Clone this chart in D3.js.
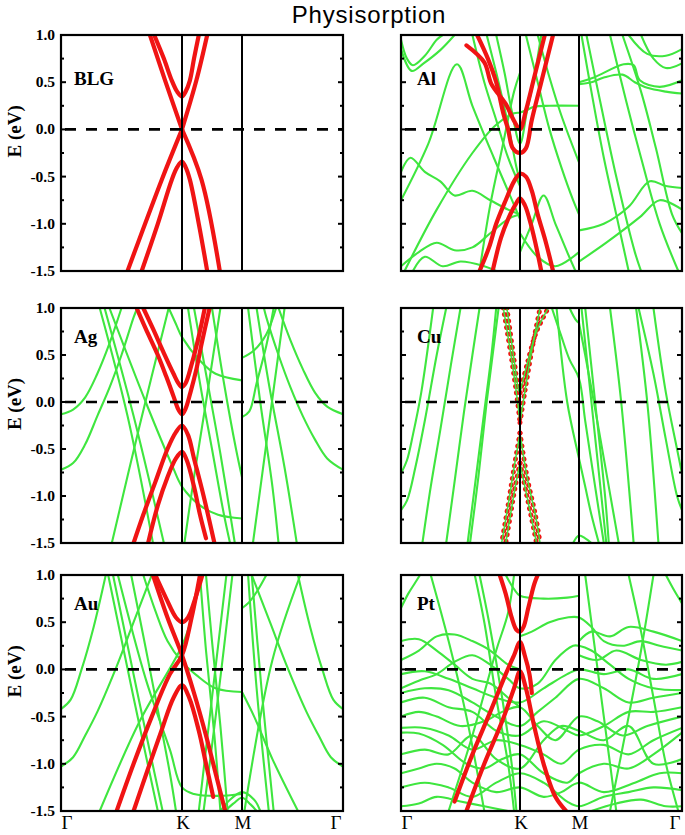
<!DOCTYPE html>
<html><head><meta charset="utf-8">
<script src="https://cdn.jsdelivr.net/npm/d3@7"></script>
<style>body{margin:0;background:#fff}svg{display:block}</style></head>
<body><svg id="c" width="685" height="835"></svg>
<script>
// ---------- data ----------
const kLabels = ["Γ", "K", "M", "Γ"];
const kNodes = [0, 1, 1.5, 2.33];
const eTicks = [1.0, 0.5, 0.0, -0.5, -1.0, -1.5];
const eMinor = [0.75, 0.25, -0.25, -0.75, -1.25];
const panelNames = ["BLG", "Al", "Ag", "Cu", "Au", "Pt"];

// graphene-projected bands (red), each band = list of [k, E]
const blgRed = [
  [[0.77,1.0],[0.85,0.75],[0.915,0.52],[0.96,0.4],[1.0,0.35],[1.03,0.4],[1.066,0.52],[1.1,0.75],[1.14,1.0]],
  [[0.735,1.0],[0.86,0.52],[1.0,0.0]], [[1.0,0.0],[1.12,0.52],[1.21,1.0]],
  [[0.55,-1.5],[0.832,-0.535],[1.0,0.0]], [[1.0,0.0],[1.163,-0.535],[1.315,-1.5]],
  [[0.667,-1.5],[0.8,-1.0],[0.915,-0.535],[0.96,-0.4],[1.0,-0.34],[1.03,-0.4],[1.066,-0.535],[1.14,-1.0],[1.21,-1.5]]
];
const blgGreen = [];

const alRed = [
  [[0.55,0.89],[0.7,0.71],[0.76,0.48],[0.88,0.27],[0.95,0.09],[1.0,0.0],[1.05,0.2],[1.12,0.55],[1.21,1.0]],
  [[0.64,1.0],[0.73,0.75],[0.8,0.5],[0.86,0.17],[0.9,0.0],[0.94,-0.2],[1.0,-0.25],[1.05,-0.2],[1.1,0.1],[1.18,0.5],[1.28,1.0]],
  [[0.66,-1.5],[0.74,-1.25],[0.8,-1.0],[0.88,-0.75],[0.95,-0.55],[1.0,-0.47],[1.05,-0.5],[1.1,-0.65],[1.15,-0.9],[1.22,-1.2],[1.28,-1.5]],
  [[0.77,-1.5],[0.84,-1.15],[0.9,-0.95],[0.96,-0.8],[1.0,-0.73],[1.04,-0.8],[1.08,-0.95],[1.13,-1.2],[1.18,-1.5]]
];
const alGreen = [
  [[0,0.85],[0.09,0.62],[0.19,0.7],[0.33,0.84],[0.45,1.0]],
  [[0,0.95],[0.05,0.75],[0.1,0.68],[0.2,0.78],[0.3,0.95],[0.35,1.0]],
  [[0,-0.75],[0.23,-0.15],[0.47,0.69],[0.6,0.25],[0.78,-0.3],[0.95,-0.8],[1.0,-0.95]],
  [[0.03,-1.5],[0.3,-0.85],[0.6,-0.25],[0.8,0.05],[0.95,0.17],[1.0,0.18],[1.05,0.2],[1.12,0.24],[1.25,0.25],[1.5,0.25]],
  [[0,-0.45],[0.08,-0.3],[0.2,-0.45],[0.33,-0.55],[0.45,-0.7],[0.6,-0.65],[0.75,-0.75],[0.9,-0.85],[1.0,-0.9]],
  [[0,-1.45],[0.15,-1.3],[0.3,-1.2],[0.45,-1.28],[0.6,-1.25],[0.75,-1.1],[0.9,-0.95],[1.0,-0.9]],
  [[0.1,-1.5],[0.2,-1.35],[0.35,-1.45],[0.5,-1.4],[0.7,-1.45],[0.8,-1.5]],
  [[0.6,1.0],[0.7,0.5],[0.8,0.1],[0.9,-0.3],[1.0,-0.6]],
  [[0.66,-1.5],[0.75,-0.8],[0.85,-0.2],[0.95,0.4],[1.0,0.6]],
  [[0.72,1.0],[0.82,0.5],[0.9,0.05],[0.97,-0.4],[1.0,-0.55]],
  [[0.8,1.0],[0.87,0.6],[0.93,0.2],[1.0,-0.15],[1.06,0.2],[1.12,0.55],[1.18,1.0]],
  [[1.05,1.0],[1.15,0.5],[1.25,0.0],[1.35,-0.4],[1.45,-0.75],[1.5,-0.9]],
  [[1.15,1.0],[1.25,0.55],[1.35,0.15],[1.5,-0.35]],
  [[1.0,-1.3],[1.1,-1.0],[1.2,-0.7],[1.3,-1.0],[1.4,-1.3],[1.47,-1.5]],
  [[1.0,-1.1],[1.15,-1.35],[1.3,-1.45],[1.5,-1.3]],
  [[1.5,0.5],[1.62,0.55],[1.86,0.69],[1.94,0.68],[1.99,0.52],[2.15,0.45],[2.33,0.52]],
  [[1.5,0.48],[1.6,0.5],[1.7,0.55],[1.85,0.58],[1.95,0.5],[2.05,0.44],[2.2,0.4],[2.33,0.38]],
  [[2.0,1.0],[2.1,0.75],[2.2,0.65],[2.33,0.7]],
  [[1.9,1.0],[2.05,0.8],[2.2,0.78],[2.33,0.85]],
  [[1.5,-1.07],[1.7,-1.0],[1.9,-0.82],[2.07,-0.55],[2.2,-0.6],[2.33,-0.62]],
  [[1.5,-1.4],[1.72,-1.2],[1.99,-0.93],[2.15,-0.75],[2.33,-0.85]],
  [[1.52,1.0],[1.6,0.4],[1.7,-0.3],[1.8,-0.9],[1.9,-1.5]],
  [[1.56,1.0],[1.67,0.3],[1.8,-0.5],[1.95,-1.3],[2.0,-1.5]],
  [[1.75,1.0],[1.88,0.3],[2.0,-0.3],[2.15,-1.0],[2.3,-1.5]],
  [[1.85,1.0],[2.0,0.4],[2.12,-0.2],[2.25,-0.9],[2.33,-1.1]]
];

const agRed = [
  [[0.68,1.0],[0.76,0.78],[0.85,0.52],[0.93,0.3],[0.97,0.2],[1.0,0.16],[1.03,0.2],[1.08,0.4],[1.14,0.7],[1.19,1.0]],
  [[0.625,1.0],[0.7,0.78],[0.8,0.5],[0.87,0.27],[0.93,0.06],[0.97,-0.08],[1.0,-0.13],[1.03,-0.07],[1.07,0.1],[1.12,0.35],[1.16,0.6],[1.23,1.0]],
  [[0.6,-1.5],[0.68,-1.2],[0.78,-0.85],[0.88,-0.5],[0.95,-0.32],[1.0,-0.25],[1.05,-0.35],[1.1,-0.6],[1.18,-1.0],[1.27,-1.5]],
  [[0.72,-1.5],[0.8,-1.1],[0.88,-0.8],[0.95,-0.6],[1.0,-0.53],[1.04,-0.62],[1.1,-0.9],[1.15,-1.2],[1.2,-1.45]]
];
const agGreen = [
  [[0,-0.13],[0.1,-0.08],[0.2,0.05],[0.3,0.3],[0.4,0.62],[0.5,1.0]],
  [[0,-0.72],[0.1,-0.65],[0.2,-0.45],[0.3,-0.15],[0.4,0.15],[0.5,0.5],[0.6,0.9],[0.63,1.0]],
  [[0.32,1.0],[0.55,-0.15],[0.76,-1.5]],
  [[0.36,1.0],[0.6,-0.15],[0.85,-1.5]],
  [[0.42,-1.5],[0.65,-0.25],[0.89,1.0]],
  [[0.89,1.0],[0.95,0.83],[1.0,0.69],[1.15,0.44],[1.28,0.3],[1.5,0.23]],
  [[0.4,1.0],[0.7,0.0],[0.92,-0.68],[1.0,-0.9],[1.15,-1.1],[1.3,-1.2],[1.5,-1.24]],
  [[1.05,1.0],[1.15,0.2],[1.25,-0.5],[1.35,-1.2],[1.4,-1.5]],
  [[1.1,1.0],[1.2,0.3],[1.32,-0.55],[1.44,-1.5]],
  [[1.02,-1.5],[1.1,-0.8],[1.2,0.0],[1.32,1.0]],
  [[1.25,1.0],[1.35,0.2],[1.45,-0.5],[1.5,-0.8]],
  [[1.5,0.47],[1.6,0.55],[1.7,0.72],[1.78,1.0]],
  [[1.5,-0.16],[1.56,-0.1],[1.62,0.2],[1.7,0.6],[1.76,1.0]],
  [[1.55,1.0],[1.65,0.0],[1.75,-0.9],[1.8,-1.5]],
  [[1.62,1.0],[1.72,0.2],[1.85,-0.7],[1.95,-1.5]],
  [[1.59,-1.5],[1.72,-0.25],[1.85,1.0]],
  [[2.33,-0.13],[2.2,-0.05],[2.1,0.1],[2.0,0.35],[1.9,0.65],[1.8,1.0]],
  [[2.33,-0.72],[2.2,-0.6],[2.1,-0.4],[2.0,-0.15],[1.9,0.15],[1.8,0.5],[1.7,0.9],[1.68,1.0]]
];

const cuRed = [
  [[0.86,1.0],[0.93,0.45],[0.98,0.0],[1.0,-0.22]],
  [[0.89,1.0],[0.95,0.45],[0.99,0.12],[1.0,0.1]],
  [[1.0,-0.22],[1.04,0.1],[1.1,0.55],[1.17,1.0]],
  [[1.0,0.1],[1.06,0.4],[1.14,0.75],[1.24,1.0]],
  [[1.0,-0.33],[0.95,-0.7],[0.9,-1.1],[0.846,-1.5]],
  [[1.0,-0.65],[0.96,-0.9],[0.92,-1.2],[0.88,-1.5]],
  [[1.0,-0.33],[1.06,-0.8],[1.13,-1.2],[1.17,-1.5]],
  [[1.0,-0.65],[1.05,-0.95],[1.1,-1.25],[1.14,-1.5]]
];
const cuGreen = [
  [[0,-0.76],[0.05,-0.62],[0.1,-0.35],[0.17,0.1],[0.27,1.0]],
  [[0,-1.15],[0.05,-1.05],[0.12,-0.7],[0.2,-0.2],[0.3,0.5],[0.38,1.0]],
  [[0.18,-1.5],[0.25,-0.9],[0.33,-0.3],[0.42,0.4],[0.5,1.0]],
  [[0.38,-1.5],[0.45,-0.85],[0.53,-0.1],[0.6,0.5],[0.66,1.0]],
  [[0.56,-1.5],[0.62,-0.9],[0.7,-0.1],[0.76,0.5],[0.8,1.0]],
  [[0.58,-1.5],[0.65,-0.8],[0.72,0.0],[0.78,0.6],[0.82,1.0]],
  [[1.27,1.0],[1.35,0.7],[1.42,0.45],[1.5,0.25],[1.55,-0.2],[1.63,-0.9],[1.7,-1.5]],
  [[1.31,1.0],[1.4,0.0],[1.5,-0.6],[1.55,-0.9],[1.6,-1.2],[1.66,-1.5]],
  [[1.42,1.0],[1.47,0.88],[1.5,0.84]],
  [[1.5,0.84],[1.55,0.5],[1.62,0.0],[1.7,-0.6],[1.78,-1.2],[1.82,-1.5]],
  [[1.45,-1.5],[1.5,-1.42],[1.55,-1.45],[1.6,-1.5]],
  [[1.75,1.0],[1.84,0.0],[1.94,-1.5]],
  [[1.96,1.0],[2.05,0.0],[2.14,-1.5]],
  [[2.1,1.0],[2.2,0.1],[2.29,-0.5],[2.33,-0.76]],
  [[1.98,1.0],[2.1,0.3],[2.2,-0.4],[2.29,-1.0],[2.33,-1.15]],
  [[1.52,1.0],[1.6,0.0],[1.68,-1.0],[1.72,-1.5]],
  [[1.55,1.0],[1.63,0.0],[1.71,-1.0],[1.74,-1.5]]
];

const auRed = [
  [[0.78,1.0],[0.87,0.75],[0.95,0.55],[1.0,0.5],[1.05,0.55],[1.11,0.75],[1.17,1.0]],
  [[0.76,1.0],[0.88,0.55],[1.0,0.15],[1.1,-0.25],[1.2,-0.7],[1.3,-1.2],[1.36,-1.5]],
  [[0.46,-1.5],[0.6,-1.0],[0.75,-0.5],[0.9,-0.05],[1.0,0.15],[1.08,0.55],[1.15,1.0]],
  [[0.6,-1.5],[0.72,-1.05],[0.83,-0.65],[0.93,-0.3],[1.0,-0.17],[1.06,-0.3],[1.14,-0.65],[1.2,-1.0],[1.26,-1.35]]
];
const auGreen = [
  [[0,-0.42],[0.08,-0.32],[0.17,0.0],[0.27,0.45],[0.37,1.0]],
  [[0,-1.03],[0.1,-0.93],[0.2,-0.7],[0.3,-0.45],[0.45,0.0],[0.6,0.5],[0.72,0.9],[0.75,1.0]],
  [[0.39,1.0],[0.6,-0.3],[0.8,-1.5]],
  [[0.43,1.0],[0.64,-0.3],[0.84,-1.5]],
  [[0.58,1.0],[0.75,-0.1],[0.9,-1.1],[0.95,-1.5]],
  [[0.32,-1.5],[0.65,-0.55],[1.0,0.25],[1.08,0.55],[1.15,1.0]],
  [[0.68,1.0],[0.78,0.62],[0.88,0.3],[1.0,0.08],[1.12,-0.06],[1.28,-0.2],[1.5,-0.24]],
  [[0.47,1.0],[0.7,-0.1],[0.9,-0.85],[1.0,-1.25],[1.1,-1.32],[1.3,-1.34],[1.5,-1.32]],
  [[1.32,-1.5],[1.4,-1.38],[1.5,-1.3],[1.6,-1.38],[1.65,-1.5]],
  [[1.36,-1.5],[1.43,-1.42],[1.5,-1.36],[1.57,-1.43],[1.62,-1.5]],
  [[1.5,0.65],[1.55,0.7],[1.62,0.82],[1.7,1.0]],
  [[1.5,-0.24],[1.6,-0.5],[1.75,-0.95],[1.96,-1.5]],
  [[1.15,1.0],[1.2,0.2],[1.27,-0.7],[1.32,-1.5]],
  [[1.2,1.0],[1.25,0.3],[1.32,-0.6],[1.38,-1.5]],
  [[1.14,-1.5],[1.25,-0.3],[1.37,1.0]],
  [[1.18,-1.5],[1.3,-0.3],[1.42,1.0]],
  [[1.55,1.0],[1.62,-0.2],[1.72,-1.5]],
  [[1.58,1.0],[1.66,-0.2],[1.76,-1.5]],
  [[1.52,-1.5],[1.75,0.1],[1.98,1.0]],
  [[2.33,-0.42],[2.25,-0.32],[2.16,0.0],[2.06,0.45],[1.96,1.0]],
  [[2.33,-1.03],[2.23,-0.93],[2.13,-0.7],[2.03,-0.45],[1.88,0.0],[1.73,0.5],[1.61,0.9],[1.58,1.0]]
];

const ptRed = [
  [[0.83,1.0],[0.88,0.8],[0.93,0.55],[0.97,0.42],[1.0,0.4],[1.03,0.45],[1.07,0.65],[1.12,0.9],[1.15,1.0]],
  [[0.45,-1.4],[0.6,-0.9],[0.75,-0.45],[0.88,-0.05],[0.95,0.15],[1.0,0.29],[1.04,0.15],[1.08,-0.05],[1.1,-0.25]],
  [[0.55,-1.5],[0.7,-1.0],[0.85,-0.55],[0.95,-0.2],[1.0,-0.02],[1.05,-0.2],[1.12,-0.6],[1.2,-1.0],[1.3,-1.35],[1.39,-1.5]]
];
const ptGreen = [
  [[0,0.65],[0.06,0.8],[0.12,0.92],[0.16,1.0]],
  [[2.33,0.7],[2.27,0.83],[2.2,1.0]],
  [[0,0.1],[0.15,0.2],[0.3,0.35],[0.45,0.37],[0.6,0.3],[0.75,0.2],[0.9,0.05],[1.0,0.0]],
  [[0,0.3],[0.15,0.32],[0.3,0.2],[0.45,0.05],[0.6,-0.1],[0.75,-0.15],[0.9,-0.3],[1.0,-0.4]],
  [[0,-0.2],[0.15,-0.12],[0.3,-0.05],[0.45,0.08],[0.6,0.15],[0.75,0.05],[0.9,-0.1],[1.0,-0.2],[1.15,-0.15],[1.3,0.1],[1.45,0.25],[1.5,0.25],[1.6,0.2],[1.75,0.05],[1.9,-0.1],[2.1,-0.2],[2.33,-0.22]],
  [[0,-0.25],[0.2,-0.2],[0.4,-0.22],[0.6,-0.35],[0.8,-0.5],[1.0,-0.6],[1.15,-0.45],[1.3,-0.3],[1.5,-0.1],[1.7,-0.2],[1.9,-0.35],[2.1,-0.3],[2.33,-0.25]],
  [[0,-0.35],[0.2,-0.3],[0.4,-0.4],[0.6,-0.45],[0.8,-0.65],[1.0,-0.7],[1.2,-0.55],[1.4,-0.65],[1.5,-0.7],[1.7,-0.6],[1.9,-0.45],[2.1,-0.45],[2.33,-0.4]],
  [[0,-0.5],[0.15,-0.45],[0.3,-0.5],[0.5,-0.6],[0.7,-0.55],[0.85,-0.45],[1.0,-0.4],[1.15,-0.6],[1.3,-0.75],[1.5,-0.5],[1.65,-0.55],[1.85,-0.7],[2.05,-0.6],[2.33,-0.5]],
  [[0,-0.62],[0.2,-0.62],[0.4,-0.7],[0.6,-0.85],[0.8,-0.75],[1.0,-0.8],[1.2,-0.9],[1.35,-1.0],[1.5,-0.85],[1.7,-0.8],[1.9,-0.9],[2.1,-0.75],[2.33,-0.62]],
  [[0,-0.67],[0.15,-0.68],[0.35,-0.8],[0.55,-1.0],[0.7,-1.05],[0.85,-0.95],[1.0,-0.9],[1.2,-1.1],[1.4,-1.2],[1.5,-1.1],[1.7,-1.0],[1.9,-1.05],[2.1,-0.9],[2.33,-0.67]],
  [[0,-0.9],[0.2,-0.85],[0.4,-0.9],[0.6,-0.7],[0.8,-0.95],[1.0,-1.05],[1.2,-0.75],[1.35,-0.6],[1.5,-0.65],[1.7,-0.75],[1.9,-0.6],[2.1,-1.0],[2.33,-0.95]],
  [[0,-1.1],[0.15,-1.05],[0.3,-1.0],[0.45,-1.05],[0.6,-1.2],[0.8,-1.3],[1.0,-1.25],[1.2,-1.35],[1.35,-1.3],[1.5,-1.2],[1.7,-1.3],[1.95,-1.2],[2.15,-1.1],[2.33,-1.1]],
  [[0,-1.25],[0.2,-1.2],[0.4,-1.25],[0.6,-1.35],[0.8,-1.2],[1.0,-1.1],[1.2,-1.2],[1.4,-1.4],[1.5,-1.45],[1.7,-1.35],[1.9,-1.3],[2.1,-1.25],[2.33,-1.28]],
  [[0,-1.45],[0.15,-1.42],[0.3,-1.35],[0.5,-1.4],[0.7,-1.45],[0.9,-1.5]],
  [[1.6,-1.5],[1.8,-1.42],[2.0,-1.38],[2.2,-1.45],[2.33,-1.45]],
  [[1.0,0.35],[1.1,0.4],[1.25,0.5],[1.4,0.55],[1.5,0.55],[1.6,0.45],[1.7,0.3],[1.85,0.25],[2.0,0.3],[2.15,0.25],[2.33,0.2]],
  [[0.88,1.0],[0.95,0.85],[1.0,0.78],[1.2,0.75],[1.4,0.76],[1.5,0.78]],
  [[0,-0.05],[0.2,-0.02],[0.4,-0.1],[0.6,-0.2],[0.8,-0.3],[1.0,-0.35],[1.2,-0.2],[1.4,-0.05],[1.5,0.0],[1.7,-0.05],[1.9,0.0],[2.1,-0.1],[2.33,-0.05]],
  [[1.5,0.3],[1.6,0.4],[1.75,0.35],[1.9,0.45],[2.1,0.4],[2.33,0.3]],
  [[1.5,0.15],[1.65,0.1],[1.8,0.2],[2.0,0.1],[2.2,0.05],[2.33,0.08]],
  [[0.25,1.0],[0.4,0.3],[0.55,-0.5],[0.7,-1.5]],
  [[0.62,1.0],[0.7,0.5],[0.8,-0.3],[0.9,-1.0],[0.95,-1.5]],
  [[0.66,1.0],[0.74,0.5],[0.85,-0.3],[0.93,-1.0],[0.97,-1.5]],
  [[0.4,-1.5],[0.6,-0.7],[0.8,0.2],[0.9,0.6],[0.95,1.0]],
  [[1.55,1.0],[1.62,0.3],[1.7,-0.5],[1.8,-1.5]],
  [[1.9,1.0],[2.0,0.4],[2.1,-0.3],[2.2,-1.0],[2.3,-1.5]],
  [[1.75,-1.5],[1.9,-0.5],[2.0,0.2],[2.1,1.0]]
];

// ---------- layout ----------
const colX = [[61,182,242,343],[401,520,579,682]];
const rowY = [[35,271],[308,543],[575,811]];
const RED = "#f01414", GREEN = "#3fe63f";
const panels = [
  {red: blgRed, green: blgGreen}, {red: alRed, green: alGreen},
  {red: agRed, green: agGreen},   {red: cuRed, green: cuGreen, dotted: true},
  {red: auRed, green: auGreen},   {red: ptRed, green: ptGreen}
];

const svg = d3.select("#c");
svg.append("text").attr("x", 369).attr("y", 23).attr("text-anchor","middle")
  .attr("font-family","Liberation Sans, Arial, sans-serif").attr("font-size",24)
  .attr("letter-spacing", 0.8).text("Physisorption");

panels.forEach((p, i) => {
  const col = i % 2, row = Math.floor(i / 2);
  const xs = d3.scaleLinear().domain(kNodes).range(colX[col]);
  const ys = d3.scaleLinear().domain([-1.5, 1.0]).range([rowY[row][1], rowY[row][0]]);
  const x0 = colX[col][0], x1 = colX[col][3], y0 = rowY[row][0], y1 = rowY[row][1];
  const g = svg.append("g");
  const cid = "clip" + i;
  g.append("clipPath").attr("id", cid).append("rect")
    .attr("x", x0).attr("y", y0).attr("width", x1 - x0).attr("height", y1 - y0);
  const line = d3.line().x(d => xs(d[0])).y(d => ys(d[1])).curve(d3.curveCatmullRom.alpha(0.5));
  const plot = g.append("g").attr("clip-path", `url(#${cid})`);

  plot.selectAll(".gb").data(p.green).join("path").attr("class","gb")
    .attr("d", line).attr("fill","none").attr("stroke", GREEN).attr("stroke-width", 2.1)
    .attr("stroke-linecap","round");
  if (p.dotted) {
    plot.selectAll(".rb").data(p.red).join("path").attr("class","rb")
      .attr("d", line).attr("fill","none").attr("stroke", RED).attr("stroke-width", 5)
      .attr("stroke-linecap","round").attr("stroke-dasharray","0.1 6.5");
    plot.selectAll(".rg").data(p.red).join("path").attr("class","rg")
      .attr("d", line).attr("fill","none").attr("stroke", GREEN).attr("stroke-width", 1.5);
  } else {
    plot.selectAll(".rb").data(p.red).join("path").attr("class","rb")
      .attr("d", line).attr("fill","none").attr("stroke", RED).attr("stroke-width", 4.2)
      .attr("stroke-linecap","round");
  }

  // Fermi level
  g.append("line").attr("x1", x0).attr("x2", x1).attr("y1", ys(0)).attr("y2", ys(0))
    .attr("stroke","#000").attr("stroke-width",2.6).attr("stroke-dasharray","11 10")
    .attr("stroke-dashoffset", -4);
  // K, M lines
  [1, 1.5].forEach(k => g.append("line").attr("x1", xs(k)).attr("x2", xs(k))
    .attr("y1", y0).attr("y2", y1).attr("stroke","#000").attr("stroke-width",2));
  // frame
  g.append("rect").attr("x", x0).attr("y", y0).attr("width", x1 - x0).attr("height", y1 - y0)
    .attr("fill","none").attr("stroke","#000").attr("stroke-width",2.2);
  // ticks (inward, both sides)
  const tk = (e, len) => {
    g.append("line").attr("x1", x0).attr("x2", x0 + len).attr("y1", ys(e)).attr("y2", ys(e))
      .attr("stroke","#000").attr("stroke-width",2);
    g.append("line").attr("x1", x1).attr("x2", x1 - len).attr("y1", ys(e)).attr("y2", ys(e))
      .attr("stroke","#000").attr("stroke-width",2);
  };
  eTicks.forEach(e => tk(e, 5));
  eMinor.forEach(e => tk(e, 3));

  if (col === 0) {
    g.selectAll(".yl").data(eTicks).join("text").attr("class","yl")
      .attr("x", x0 - 6).attr("y", d => ys(d) + 5).attr("text-anchor","end")
      .attr("font-family","Liberation Serif, Times New Roman, serif").attr("font-weight","bold")
      .attr("font-size",15.5).text(d => d.toFixed(1));
    g.append("text").attr("transform", `translate(21,${ys(0) + 2}) rotate(-90)`)
      .attr("text-anchor","middle").attr("font-family","Liberation Serif, Times New Roman, serif")
      .attr("font-weight","bold").attr("font-size",19).text("E (eV)");
  }
  const lab = panelNames[i];
  g.append("text").attr("x", x0 + (col === 0 ? 13 : 16)).attr("y", y0 + (row === 0 ? 50 : 35))
    .attr("font-family","Liberation Serif, Times New Roman, serif").attr("font-weight","bold")
    .attr("font-size",19).text(lab);

  if (row === 2) {
    g.selectAll(".xl").data(kNodes).join("text").attr("class","xl")
      .attr("x", (d, j) => xs(d) + (j === 0 ? 6 : j === 3 ? -7 : 1)).attr("y", 829)
      .attr("text-anchor","middle").attr("font-family","Liberation Serif, Times New Roman, serif")
      .attr("font-size",19).text((d, j) => kLabels[j]);
  }
});
</script></body></html>
